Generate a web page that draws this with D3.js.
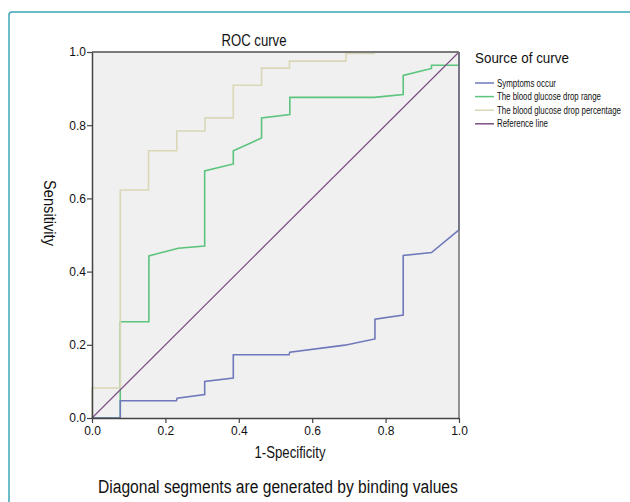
<!DOCTYPE html>
<html>
<head>
<meta charset="utf-8">
<script src="https://cdn.jsdelivr.net/npm/d3@7"></script>
<style>
  body { margin: 0; background: #fff; }
  text { font-family: "Liberation Sans", Arial, sans-serif; fill: #111; }
</style>
</head>
<body>
<div id="chart-area"></div>
<script>
// ROC curve data (1-specificity, sensitivity)
var symptomsX = [0, 0.077, 0.077, 0.230, 0.232, 0.307, 0.307, 0.385, 0.385, 0.537, 0.539, 0.689, 0.771, 0.771, 0.848, 0.848, 0.925, 1.0, 1.0];
var symptomsY = [0, 0, 0.047, 0.047, 0.054, 0.064, 0.100, 0.109, 0.173, 0.173, 0.180, 0.199, 0.216, 0.270, 0.281, 0.444, 0.452, 0.514, 1.0];

var rangeX = [0, 0.077, 0.077, 0.155, 0.155, 0.235, 0.307, 0.307, 0.385, 0.385, 0.462, 0.462, 0.539, 0.539, 0.769, 0.848, 0.848, 0.925, 0.925, 1.0, 1.0];
var rangeY = [0, 0, 0.263, 0.263, 0.443, 0.464, 0.470, 0.675, 0.694, 0.730, 0.765, 0.820, 0.829, 0.876, 0.876, 0.884, 0.936, 0.955, 0.964, 0.964, 1.0];

var percentX = [0, 0, 0.077, 0.077, 0.154, 0.154, 0.231, 0.231, 0.308, 0.308, 0.385, 0.385, 0.462, 0.462, 0.538, 0.538, 0.692, 0.692, 0.769, 0.769, 1.0];
var percentY = [0, 0.082, 0.082, 0.623, 0.623, 0.730, 0.730, 0.784, 0.784, 0.820, 0.820, 0.909, 0.909, 0.956, 0.956, 0.975, 0.975, 0.996, 0.996, 1.0, 1.0];

var refX = [0, 1];
var refY = [0, 1];

var seriesNames = ["Symptoms occur", "The blood glucose drop range", "The blood glucose drop percentage", "Reference line"];
var seriesColors = ["#6f78bb", "#5cc47d", "#d9d7b5", "#7e4f85"];
var ticks = [0, 0.2, 0.4, 0.6, 0.8, 1.0];

var margin = { left: 92, top: 52 };
var width = 367, height = 366;

var svg = d3.select("#chart-area")
  .append("svg")
    .attr("width", 630)
    .attr("height", 502);

// squeeze a text horizontally to a wanted width (the original font is narrow)
function fitText(sel, x, y, w, anchor, rot){
  var len = sel.node().getComputedTextLength();
  var s = Math.min(1, w / len);
  sel.attr("text-anchor", anchor || "start")
    .attr("transform", "translate(" + x + "," + y + ")" + (rot ? " rotate(" + rot + ")" : "") + " scale(" + s + ",1)");
  return sel;
}

// outer teal frame
svg.append("rect")
  .attr("x", 9).attr("y", 12)
  .attr("width", 700).attr("height", 600)
  .attr("rx", 3)
  .attr("fill", "none")
  .attr("stroke", "#3ba5b8")
  .attr("stroke-width", 1.5);

var g = svg.append("g")
  .attr("transform", "translate(" + margin.left + "," + margin.top + ")");

var x = d3.scaleLinear().domain([0, 1]).range([0, width]);
var y = d3.scaleLinear().domain([0, 1]).range([height, 0]);

// plot background
g.append("rect")
  .attr("width", width).attr("height", height)
  .attr("fill", "#f0f0f0");

// curves
var line = d3.line().x(d => x(d[0])).y(d => y(d[1]));
var curves = [
  [symptomsX, symptomsY],
  [rangeX, rangeY],
  [percentX, percentY],
  [refX, refY]
];
var drawOrder = [1, 0, 2, 3];
drawOrder.forEach(function(i){
  var pts = d3.zip(curves[i][0], curves[i][1]);
  g.append("path")
    .attr("d", line(pts))
    .attr("fill", "none")
    .attr("stroke", seriesColors[i])
    .attr("stroke-width", i == 3 ? 1.2 : 1.6);
});

// frame top / right
g.append("line").attr("x1", 0).attr("x2", width).attr("y1", 0).attr("y2", 0)
  .attr("stroke", "#7a7a7a").attr("stroke-width", 2);
g.append("line").attr("x1", width).attr("x2", width).attr("y1", 0).attr("y2", height)
  .attr("stroke", "#707070").attr("stroke-width", 1.5);

// axes
var xAxis = g.append("g")
  .attr("transform", "translate(0," + height + ")")
  .call(d3.axisBottom(x).tickValues(ticks).tickFormat(d3.format(".1f")).tickSize(5).tickSizeOuter(0));
var yAxis = g.append("g")
  .call(d3.axisLeft(y).tickValues(ticks).tickFormat(d3.format(".1f")).tickSize(5).tickSizeOuter(0));

[xAxis, yAxis].forEach(function(a){
  a.select(".domain").attr("stroke", "#444").attr("stroke-width", 1.5);
  a.selectAll(".tick line").attr("stroke", "#444").attr("stroke-width", 1.2);
  a.selectAll(".tick text")
    .attr("font-family", "Liberation Sans, Arial, sans-serif")
    .attr("font-size", "12px")
    .attr("fill", "#222");
});
xAxis.selectAll(".tick text").attr("y", 8);
yAxis.selectAll(".tick text").attr("x", -6);

// title
fitText(svg.append("text").attr("font-size", "17px").text("ROC curve"), 254, 46, 65, "middle");

// x label
fitText(svg.append("text").attr("font-size", "17px").text("1-Specificity"), 290, 458, 71, "middle");

// y label (reads top to bottom)
fitText(svg.append("text").attr("font-size", "16px").text("Sensitivity"), 44, 213, 66, "middle", 90);

// footnote
fitText(svg.append("text").attr("font-size", "19px").text("Diagonal segments are generated by binding values"), 98, 493, 360);

// legend
fitText(svg.append("text").attr("font-size", "14px").text("Source of curve"), 475, 63, 94);

var legendLens = [59, 104, 124, 51];
seriesNames.forEach(function(name, i){
  var ly = 83 + i * 13.6;
  svg.append("line")
    .attr("x1", 475).attr("x2", 494)
    .attr("y1", ly).attr("y2", ly)
    .attr("stroke", seriesColors[i])
    .attr("stroke-width", 1.5);
  fitText(svg.append("text").attr("font-size", "10px").attr("fill", "#1a1a1a").text(name),
    497, ly + 3.5, legendLens[i]);
});
</script>
</body>
</html>
